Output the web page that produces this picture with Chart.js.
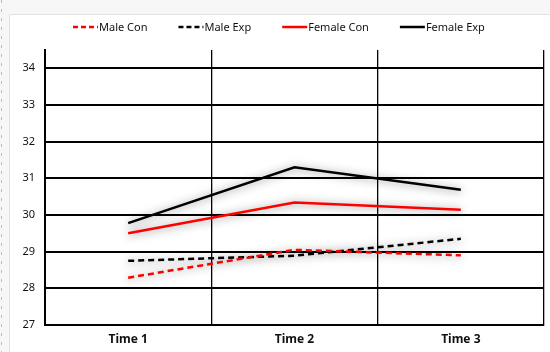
<!DOCTYPE html>
<html lang="en">
<head>
    <meta charset="UTF-8" />
    <title>Male / Female Con vs Exp</title>
    <style>
        body {
            margin: 0;
            background: #ffffff;
        }
        #wrap {
            width: 550px;
            height: 352px;
        }
    </style>
</head>
<body>
    <div id="wrap"><canvas id="line-chart" width="550" height="352"></canvas></div>
    <script src="https://cdn.jsdelivr.net/npm/chart.js@4.4.0/dist/chart.umd.min.js"></script>
    <script>
        // data
        const categories = ["Time 1", "Time 2", "Time 3"];
        const maleCon = [28.29, 29.05, 28.9];
        const maleExp = [28.75, 28.89, 29.35];
        const femaleCon = [29.5, 30.34, 30.14];
        const femaleExp = [29.78, 31.3, 30.69];
        const yTicks = [27, 28, 29, 30, 31, 32, 33, 34];

        const FONT = '"Noto Sans", "DejaVu Sans", sans-serif';

        // grey page frame behind the chart
        const frame = {
            id: "frame",
            beforeDraw(chart) {
                const ctx = chart.ctx;
                ctx.save();
                ctx.fillStyle = "#f7f7f7";
                ctx.fillRect(0, 0, chart.width, chart.height);
                ctx.fillStyle = "#ffffff";
                ctx.fillRect(9, 14, chart.width - 9, chart.height - 14);
                ctx.strokeStyle = "#e2e2e2";
                ctx.lineWidth = 1;
                ctx.beginPath();
                ctx.moveTo(9.5, chart.height);
                ctx.lineTo(9.5, 14.5);
                ctx.lineTo(chart.width, 14.5);
                ctx.stroke();
                // ruler marks on the far left
                ctx.strokeStyle = "#bdbdbd";
                ctx.setLineDash([3, 6]);
                ctx.beginPath();
                ctx.moveTo(1.5, 0);
                ctx.lineTo(1.5, chart.height);
                ctx.stroke();
                ctx.restore();
            },
        };

        // soft grey glow under the lines
        const glow = {
            id: "glow",
            beforeDatasetsDraw(chart) {
                const ctx = chart.ctx;
                ctx.save();
                ctx.shadowColor = "rgba(0,0,0,0.5)";
                ctx.shadowBlur = 9;
                ctx.shadowOffsetY = 1;
            },
            afterDatasetsDraw(chart) {
                chart.ctx.restore();
            },
        };

        // legend row at the top, line sample then label
        const legendRow = {
            id: "legendRow",
            afterDraw(chart) {
                const ctx = chart.ctx;
                const sets = chart.data.datasets;
                ctx.save();
                ctx.font = "11px " + FONT;
                const lineW = 25;
                const gap = 31;
                const widths = sets.map((d) => lineW + 1 + ctx.measureText(d.label).width);
                const total = widths.reduce((a, b) => a + b, 0) + gap * (sets.length - 1);
                let x = Math.round(279 - total / 2);
                const y = 27;
                sets.forEach((d, i) => {
                    ctx.strokeStyle = d.borderColor;
                    ctx.lineWidth = 2.5;
                    ctx.setLineDash(d.borderDash ? [5, 3] : []);
                    ctx.beginPath();
                    ctx.moveTo(x, y);
                    ctx.lineTo(x + lineW, y);
                    ctx.stroke();
                    ctx.setLineDash([]);
                    ctx.fillStyle = "#111";
                    ctx.textBaseline = "middle";
                    ctx.fillText(d.label, x + lineW + 1, y + 1);
                    x += widths[i] + gap;
                });
                ctx.restore();
            },
        };

        let chart = new Chart(document.getElementById("line-chart"), {
            type: "line",
            data: {
                labels: categories,
                datasets: [
                    {
                        label: "Male Con",
                        data: maleCon,
                        borderColor: "#ff0000",
                        borderDash: [6, 4],
                    },
                    {
                        label: "Male Exp",
                        data: maleExp,
                        borderColor: "#000000",
                        borderDash: [6, 4],
                    },
                    {
                        label: "Female Con",
                        data: femaleCon,
                        borderColor: "#ff0000",
                    },
                    {
                        label: "Female Exp",
                        data: femaleExp,
                        borderColor: "#000000",
                    },
                ],
            },
            options: {
                responsive: false,
                animation: false,
                layout: {
                    padding: { left: 0, right: 6, top: 50, bottom: 0 },
                },
                elements: {
                    line: { borderWidth: 2.5, tension: 0, fill: false },
                    point: { radius: 0, hoverRadius: 0 },
                },
                plugins: {
                    legend: { display: false },
                    tooltip: { enabled: false },
                },
                scales: {
                    x: {
                        offset: true,
                        grid: {
                            offset: true,
                            color: "#000",
                            lineWidth: 1.3,
                            drawTicks: false,
                        },
                        border: { color: "#000", width: 2 },
                        ticks: {
                            color: "#111",
                            padding: 7,
                            font: { family: FONT, size: 12, weight: "bold" },
                        },
                        afterFit(scale) {
                            scale.height = 27;
                        },
                    },
                    y: {
                        min: 27,
                        max: 34.5,
                        afterBuildTicks(scale) {
                            scale.ticks = yTicks.map((v) => ({ value: v }));
                        },
                        grid: {
                            color: "#000",
                            lineWidth: 2,
                            drawTicks: false,
                        },
                        border: { color: "#000", width: 2 },
                        ticks: {
                            color: "#111",
                            padding: 10,
                            font: { family: FONT, size: 11 },
                        },
                        afterFit(scale) {
                            scale.width = 45;
                        },
                    },
                },
            },
            plugins: [frame, glow, legendRow],
        });
    </script>
</body>
</html>
